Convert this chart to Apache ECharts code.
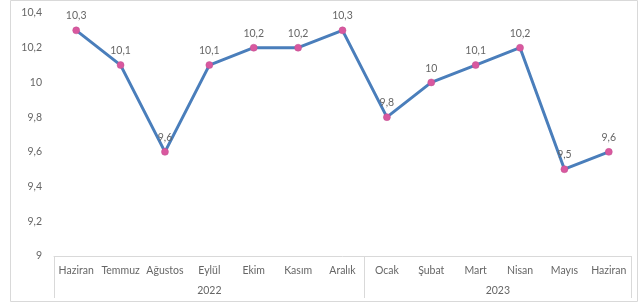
<!DOCTYPE html>
<html><head><meta charset="utf-8">
<script src="https://cdn.jsdelivr.net/npm/echarts@6/dist/echarts.min.js"></script>
<style>html,body{margin:0;padding:0;background:#fff}#c{width:644px;height:304px}</style>
</head><body><div id="c"></div>
<script>
const categories = ['Haziran','Temmuz','Ağustos','Eylül','Ekim','Kasım','Aralık','Ocak','Şubat','Mart','Nisan','Mayıs','Haziran'];
const values = [10.3,10.1,9.6,10.1,10.2,10.2,10.3,9.8,10.0,10.1,10.2,9.5,9.6];
const years = ['2022','2023'];
const yearCenters = [3.5,10];
const yearBounds = [0,7,13];
const fmt = v => String(Math.round(v*10)/10).replace('.',',');
const font = 'Lato, "Open Sans", sans-serif';
const txt = '#666666';
const chart = echarts.init(document.getElementById('c'));
chart.setOption({
  animation:false,
  graphic:[{type:'rect',shape:{x:10.5,y:0.5,width:627,height:301},style:{fill:'none',stroke:'#d9d9d9',lineWidth:1},silent:true}],
  grid:{left:54,right:13,top:13,bottom:48},
  xAxis:[{
    type:'category',data:categories,boundaryGap:true,
    axisLine:{show:true,lineStyle:{color:'#d9d9d9',width:1}},
    axisTick:{show:false},
    axisLabel:{color:txt,fontSize:10.5,fontFamily:font,margin:9,interval:0},
    splitLine:{show:false}
  },{
    type:'value',min:0,max:13,position:'bottom',offset:42,
    axisLine:{show:false},
    axisTick:{show:true,inside:true,length:42,customValues:yearBounds,lineStyle:{color:'#d9d9d9',width:1}},
    axisLabel:{show:true,inside:true,margin:2,customValues:yearCenters,color:txt,fontSize:10.5,fontFamily:font,
      formatter:v=>years[yearCenters.indexOf(v)]||''},
    splitLine:{show:false}
  }],
  yAxis:{
    type:'value',min:9,max:10.4,interval:0.2,
    axisLine:{show:false},axisTick:{show:false},splitLine:{show:false},
    axisLabel:{color:txt,fontSize:10.5,fontFamily:font,margin:12,formatter:fmt}
  },
  series:[{
    type:'line',data:values,xAxisIndex:0,
    lineStyle:{color:'#4a7ebb',width:3},
    symbol:'circle',symbolSize:7,
    itemStyle:{color:'#d9589f',borderColor:'#c05090',borderWidth:0.5},
    label:{show:true,position:'top',distance:5,color:txt,fontSize:10.5,fontFamily:font,formatter:p=>fmt(p.value)}
  }]
});
</script></body></html>
